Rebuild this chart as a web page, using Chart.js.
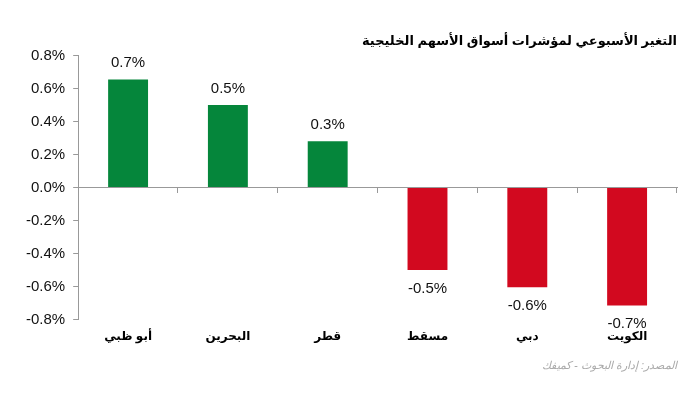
<!DOCTYPE html>
<html lang="ar">
<head>
<meta charset="UTF-8" />
<title>Weekly change</title>
<script src="https://cdn.jsdelivr.net/npm/chart.js@4/dist/chart.umd.min.js"></script>
<style>
	html, body { margin:0; padding:0; background:#fff; }
	#wrap { position:relative; width:700px; height:393px; }
</style>
</head>
<body>
<div id="wrap"><canvas id="myChart" width="700" height="393"></canvas></div>
<script>
	// data
	const markets = ['أبو ظبي', 'البحرين', 'قطر', 'مسقط', 'دبي', 'الكويت'];
	const weekly = [0.655, 0.50, 0.28, -0.50, -0.605, -0.715];
	const shown = ['0.7%', '0.5%', '0.3%', '-0.5%', '-0.6%', '-0.7%'];
	const yTicks = [-0.8, -0.6, -0.4, -0.2, 0, 0.2, 0.4, 0.6, 0.8];

	const titleText = 'التغير الأسبوعي لمؤشرات أسواق الأسهم الخليجية';
	const sourceText = 'المصدر: إدارة البحوث - كميفك';

	const green = '#05863b';
	const red = '#d2091f';
	const fontFam = "Arial, 'Liberation Sans', 'DejaVu Sans', sans-serif";

	// value labels over / under each bar
	const valueLabels = {
		id: 'valueLabels',
		afterDatasetsDraw(chart) {
			const ctx = chart.ctx;
			const meta = chart.getDatasetMeta(0);
			ctx.save();
			ctx.font = '15px ' + fontFam;
			ctx.fillStyle = '#111';
			ctx.textAlign = 'center';
			meta.data.forEach((bar, i) => {
				if (weekly[i] >= 0) {
					ctx.textBaseline = 'bottom';
					ctx.fillText(shown[i], bar.x, bar.y - 9);
				} else {
					ctx.textBaseline = 'top';
					ctx.fillText(shown[i], bar.x, bar.y + 11);
				}
			});
			ctx.restore();
		}
	};

	const ctx = document.getElementById('myChart').getContext('2d');
	const chart = new Chart(ctx, {
		type: 'bar',
		data: {
			labels: markets,
			datasets: [{
				data: weekly,
				backgroundColor: weekly.map(v => v >= 0 ? green : red),
				categoryPercentage: 1,
				barPercentage: 0.4
			}]
		},
		options: {
			responsive: false,
			animation: false,
			devicePixelRatio: 1,
			layout: { padding: { left: 18, right: 23, top: 0, bottom: 0 } },
			plugins: {
				legend: { display: false },
				tooltip: { enabled: false },
				title: {
					display: true,
					text: titleText,
					align: 'end',
					color: '#000',
					font: { family: fontFam, size: 13, weight: 'bold' },
					padding: { top: 34, bottom: 6 }
				},
				subtitle: {
					display: true,
					text: sourceText,
					position: 'bottom',
					align: 'end',
					color: '#aaa',
					font: { family: fontFam, size: 11, style: 'italic' },
					padding: { top: 14, bottom: 20 }
				}
			},
			scales: {
				x: {
					position: 'bottom',
					grid: { display: false },
					border: { display: false },
					ticks: {
						color: '#000',
						font: { family: fontFam, size: 12, weight: 'bold' },
						padding: 2
					}
				},
				zero: {
					axis: 'x',
					type: 'category',
					labels: markets,
					position: { y: 0 },
					offset: true,
					grid: { drawOnChartArea: false, offset: true, tickLength: 5, color: '#999' },
					border: { color: '#999' },
					ticks: { display: false }
				},
				y: {
					min: -0.8,
					max: 0.8,
					afterBuildTicks(axis) { axis.ticks = yTicks.map(v => ({ value: v })); },
					grid: { drawOnChartArea: false, tickLength: 5, color: '#999' },
					border: { color: '#999' },
					ticks: {
						color: '#111',
						font: { family: fontFam, size: 15 },
						padding: 8,
						callback: v => v.toFixed(1) + '%'
					}
				}
			}
		},
		plugins: [valueLabels]
	});
</script>
</body>
</html>
